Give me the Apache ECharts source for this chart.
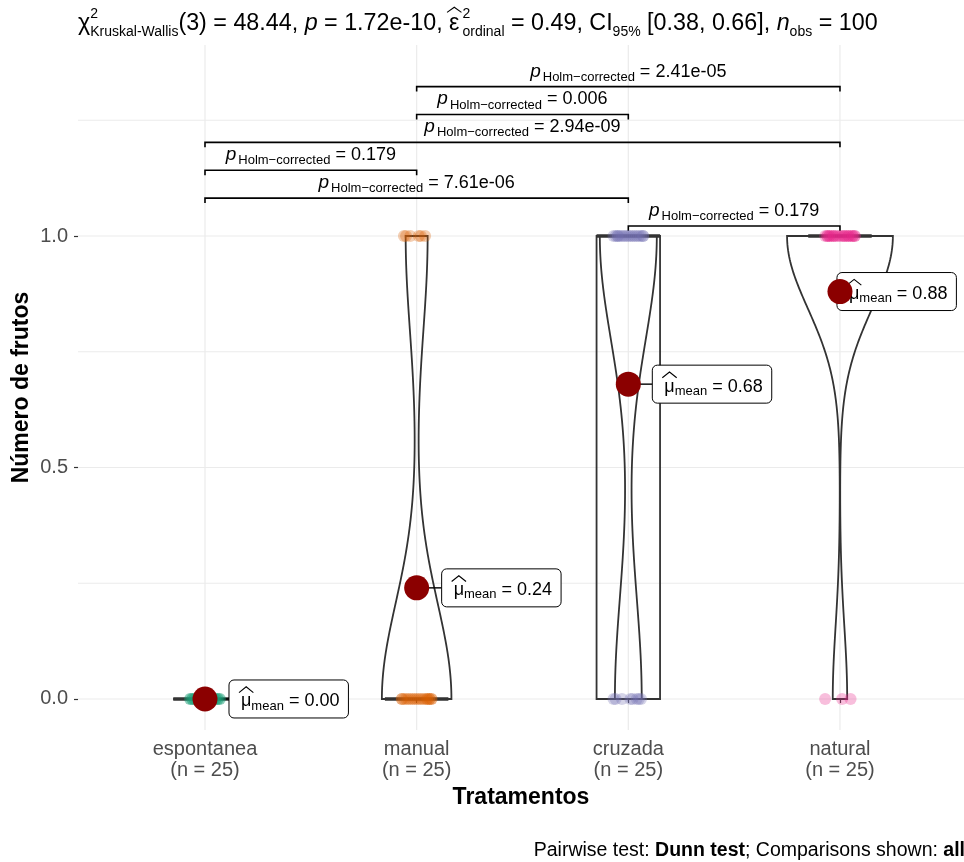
<!DOCTYPE html>
<html>
  <head>
    <meta charset="utf-8" />
    <title>Número de frutos por tratamento</title>
    <script src="https://cdn.jsdelivr.net/npm/echarts@6/dist/echarts.min.js"></script>
    <style>html, body { margin: 0; padding: 0; background: #fff; }</style>
  </head>
  <body>
    <div id="main" style="width: 964px;height:862px;"></div>
    <script type="text/javascript">
      // tratamentos e cores (Dark2)
      var categorias = ['espontanea', 'manual', 'cruzada', 'natural'];
      var cores = ['#1B9E77', '#D95F02', '#7570B3', '#E7298A'];

      // número de frutos por planta (0/1), 25 plantas por tratamento
      var espontanea = [0,0,0,0,0,0,0,0,0,0,0,0,0,0,0,0,0,0,0,0,0,0,0,0,0];
      var manual     = [1,1,1,1,1,1,0,0,0,0,0,0,0,0,0,0,0,0,0,0,0,0,0,0,0];
      var cruzada    = [1,1,1,1,1,1,1,1,1,1,1,1,1,1,1,1,1,0,0,0,0,0,0,0,0];
      var natural    = [1,1,1,1,1,1,1,1,1,1,1,1,1,1,1,1,1,1,1,1,1,1,0,0,0];
      var amostras = [espontanea, manual, cruzada, natural];

      // deslocamento horizontal dos pontos (jitter)
      var jitter = [-0.05, 0.01, -0.03, 0.04, -0.06, 0.02, 0.06, -0.02, 0.07, -0.07, 0.03, -0.04, 0.05,
                    0.00, -0.05, 0.07, -0.01, 0.04, -0.06, 0.02, 0.06, -0.03, 0.01, -0.07, 0.05];

      // médias mostradas nos rótulos
      var medias = [0.00, 0.24, 0.68, 0.88];

      // comparações de Dunn (Holm), da mais baixa para a mais alta
      var compA = [3, 1, 1, 1, 2, 2];
      var compB = [4, 3, 2, 4, 3, 4];
      var pHolm = ['0.179', '7.61e-06', '0.179', '2.94e-09', '0.006', '2.41e-05'];

      // eixo y
      var ticksY = [0, 0.5, 1];
      var gradeY = [0, 0.25, 0.5, 0.75, 1, 1.25];

      var FONTE = 'Liberation Sans';
      var ctx = document.createElement('canvas').getContext('2d');

      function fonte(p) {
        return (p.it ? 'italic ' : '') + (p.b ? 'bold ' : '') + p.size + 'px "' + FONTE + '"';
      }
      function medir(p) {
        ctx.font = fonte(p);
        return ctx.measureText(p.t).width;
      }
      function txt(p, x, base, cor) {
        return {
          type: 'text', x: x, y: base - 0.31 * p.size, silent: true,
          style: { text: p.t, font: fonte(p), fill: cor, textAlign: 'left',
                   textVerticalAlign: 'middle', verticalAlign: 'middle' }
        };
      }
      function chapeu(x, w, base, s, h, cor) {
        return {
          type: 'polyline', silent: true,
          shape: { points: [[x - 2, base - h[0] * s], [x + w / 2, base - h[1] * s], [x + w + 2, base - h[0] * s]] },
          style: { stroke: cor, lineWidth: 1.1, fill: null }
        };
      }
      // monta texto com sub/sobrescritos em posições absolutas
      function compor(pecas, x0, base, cor) {
        var els = [], x = x0;
        pecas.forEach(function (p) {
          if (p.sup !== undefined) {
            var ps = { t: p.sup, size: p.size }, pb = { t: p.sub, size: p.size };
            els.push(txt(ps, x, base - p.up, cor));
            els.push(txt(pb, x, base + p.down, cor));
            x += Math.max(medir(ps), medir(pb));
            return;
          }
          var w = medir(p);
          els.push(txt(p, x, base + (p.dy || 0), cor));
          if (p.hat) els.push(chapeu(x, w, base, p.size, p.hat, cor));
          x += w + (p.extra || 0);
        });
        return { els: els, w: x - x0 };
      }

      // quantil tipo 7 (R)
      function quantil(v, q) {
        var s = v.slice().sort(function (a, b) { return a - b; });
        var h = (s.length - 1) * q, i = Math.floor(h);
        return i + 1 < s.length ? s[i] + (h - i) * (s[i + 1] - s[i]) : s[i];
      }
      // densidade kernel gaussiana, bw.nrd0, aparada no intervalo dos dados
      function densidade(v) {
        var n = v.length, mu = v.reduce(function (s, x) { return s + x; }, 0) / n;
        var sd = Math.sqrt(v.reduce(function (s, x) { return s + (x - mu) * (x - mu); }, 0) / (n - 1));
        var lo = Math.min(sd, (quantil(v, 0.75) - quantil(v, 0.25)) / 1.34);
        if (!lo) lo = sd || Math.abs(v[0]) || 1;
        var bw = 0.9 * lo * Math.pow(n, -0.2);
        var a = Math.min.apply(null, v), b = Math.max.apply(null, v);
        if (a === b) return null;
        var pts = [];
        for (var k = 0; k <= 160; k++) {
          var y = a + (b - a) * k / 160, d = 0;
          v.forEach(function (x) { var z = (y - x) / bw; d += Math.exp(-0.5 * z * z); });
          pts.push([y, d / (n * bw * Math.sqrt(2 * Math.PI))]);
        }
        return pts;
      }
      var dens = amostras.map(densidade);
      var dMax = 0;
      dens.forEach(function (d) { if (d) d.forEach(function (p) { dMax = Math.max(dMax, p[1]); }); });

      var chart = echarts.init(document.getElementById('main'));

      var seriesPontos = amostras.map(function (v, g) {
        return {
          type: 'scatter', silent: true, symbolSize: 12,
          itemStyle: { color: cores[g], opacity: 0.3 },
          data: v.map(function (y, i) { return [g + 1 + jitter[i], y]; })
        };
      });

      // posição dos rótulos das médias em relação ao ponto (px)
      var deslocRotulo = [24, 25, 24, -3];

      // título (subtítulo estatístico)
      var M = 23.3, S = 14;
      var titulo = compor([
        { t: 'χ', size: M },
        { sup: '2', sub: 'Kruskal-Wallis', size: S, up: 13, down: 5 },
        { t: '(3) = 48.44, ', size: M },
        { t: 'p', size: M, it: true },
        { t: ' = 1.72e-10, ', size: M },
        { t: 'ε', size: M, hat: [0.8, 1.02], extra: 3 },
        { sup: '2', sub: 'ordinal', size: S, up: 13, down: 5 },
        { t: ' = 0.49, CI', size: M },
        { t: '95%', size: S, dy: 5 },
        { t: ' [0.38, 0.66], ', size: M },
        { t: 'n', size: M, it: true },
        { t: 'obs', size: S, dy: 5 },
        { t: ' = 100', size: M }
      ], 78, 31, '#000');

      var pecasLegenda = [
        { t: 'Pairwise test: ', size: 19.5 },
        { t: 'Dunn test', size: 19.5, b: true },
        { t: '; Comparisons shown: ', size: 19.5 },
        { t: 'all', size: 19.5, b: true }
      ];
      var largLegenda = compor(pecasLegenda, 0, 0, '#000').w;
      var legenda = compor(pecasLegenda, 965 - largLegenda, 857, '#000');

      var option = {
        animation: false,
        backgroundColor: '#fff',
        textStyle: { fontFamily: FONTE },
        grid: { left: 78, right: 0, top: 45, bottom: 132, outerBoundsMode: 'none' },
        xAxis: {
          type: 'value', min: 0.4, max: 4.586,
          axisLine: { show: false },
          splitLine: { show: false },
          axisTick: { show: true, customValues: [1, 2, 3, 4], length: 4, lineStyle: { color: '#333', width: 1.2 } },
          axisLabel: {
            customValues: [1, 2, 3, 4], color: '#4D4D4D', fontSize: 20, lineHeight: 21, margin: 9, fontFamily: FONTE,
            formatter: function (v) {
              var i = Math.round(v) - 1;
              return categorias[i] + '\n(n = ' + amostras[i].length + ')';
            }
          },
          name: 'Tratamentos', nameLocation: 'middle', nameGap: 56, nameMoveOverlap: false,
          nameTextStyle: { fontWeight: 'bold', fontSize: 23, color: '#000', fontFamily: FONTE }
        },
        yAxis: {
          type: 'value', min: -0.067, max: 1.4125,
          axisLine: { show: false },
          splitLine: { show: false },
          axisTick: { show: true, customValues: ticksY, length: 4, lineStyle: { color: '#333', width: 1.2 } },
          axisLabel: {
            customValues: ticksY, color: '#4D4D4D', fontSize: 20, margin: 10, fontFamily: FONTE,
            formatter: function (v) { return v.toFixed(1); }
          },
          name: 'Número de frutos', nameLocation: 'middle', nameGap: 45, nameRotate: 90, nameMoveOverlap: false,
          nameTextStyle: { fontWeight: 'bold', fontSize: 23, color: '#000', fontFamily: FONTE }
        },
        graphic: [
          { type: 'group', silent: true, children: titulo.els },
          { type: 'group', silent: true, children: legenda.els }
        ],
        series: [
          // grade horizontal
          {
            type: 'custom', silent: true, z: 0,
            data: gradeY.map(function (v) { return [1, v]; }),
            renderItem: function (params, api) {
              var cs = params.coordSys, y = api.coord([1, api.value(1)])[1];
              return { type: 'line', shape: { x1: cs.x, y1: y, x2: cs.x + cs.width, y2: y },
                       style: { stroke: '#EBEBEB', lineWidth: 1.2 } };
            }
          },
          // grade vertical
          {
            type: 'custom', silent: true, z: 0,
            data: categorias.map(function (c, i) { return [i + 1, 0]; }),
            renderItem: function (params, api) {
              var cs = params.coordSys, x = api.coord([api.value(0), 0])[0];
              return { type: 'line', shape: { x1: x, y1: cs.y, x2: x, y2: cs.y + cs.height },
                       style: { stroke: '#EBEBEB', lineWidth: 1.2 } };
            }
          }
        ].concat(seriesPontos).concat([
          // caixas
          {
            type: 'custom', silent: true,
            data: amostras.map(function (v, g) { return [g + 1, quantil(v, 0.25), quantil(v, 0.5), quantil(v, 0.75)]; }),
            renderItem: function (params, api) {
              var x = api.value(0);
              var a = api.coord([x - 0.15, api.value(3)]), b = api.coord([x + 0.15, api.value(1)]);
              var m1 = api.coord([x - 0.15, api.value(2)]), m2 = api.coord([x + 0.15, api.value(2)]);
              return { type: 'group', children: [
                { type: 'rect', shape: { x: a[0], y: a[1], width: b[0] - a[0], height: b[1] - a[1] },
                  style: { fill: null, stroke: '#333', lineWidth: 1.8 } },
                { type: 'line', shape: { x1: m1[0], y1: m1[1], x2: m2[0], y2: m2[1] },
                  style: { stroke: '#333', lineWidth: 3.6 } }
              ] };
            }
          },
          // violinos
          {
            type: 'custom', silent: true,
            data: [[2, 0], [3, 0], [4, 0]],
            renderItem: function (params, api) {
              var x = api.value(0), d = dens[x - 1];
              if (!d) return null;
              var dir = [], esq = [];
              d.forEach(function (p) {
                var hw = 0.25 * p[1] / dMax;
                dir.push(api.coord([x + hw, p[0]]));
                esq.unshift(api.coord([x - hw, p[0]]));
              });
              return { type: 'polygon', shape: { points: dir.concat(esq) },
                       style: { fill: null, stroke: '#333', lineWidth: 1.8 } };
            }
          },
          // médias
          {
            type: 'scatter', silent: true, symbolSize: 25,
            itemStyle: { color: '#8B0000', opacity: 1 },
            data: medias.map(function (m, g) { return [g + 1, m]; })
          },
          // rótulos das médias
          {
            type: 'custom', silent: true,
            data: medias.map(function (m, g) { return [g + 1, m]; }),
            renderItem: function (params, api) {
              var m = api.value(1), pt = api.coord([api.value(0), m]);
              var bx = pt[0] + deslocRotulo[params.dataIndex], padL = 12, padR = 9, h = 38;
              var comp = compor([
                { t: 'μ', size: 18, hat: [0.8, 1.12] },
                { t: 'mean', size: 13, dy: 3 },
                { t: ' = ' + m.toFixed(2), size: 18 }
              ], bx + padL, pt[1] + 8, '#000');
              var filhos = [];
              if (bx > pt[0]) {
                filhos.push({ type: 'line', shape: { x1: pt[0], y1: pt[1], x2: bx, y2: pt[1] },
                              style: { stroke: '#000', lineWidth: 1.4 } });
              }
              filhos.push({ type: 'rect', shape: { x: bx, y: pt[1] - h / 2, width: comp.w + padL + padR, height: h, r: 5 },
                            style: { fill: '#fff', stroke: '#000', lineWidth: 1 } });
              return { type: 'group', children: filhos.concat(comp.els) };
            }
          },
          // comparações pareadas
          {
            type: 'custom', silent: true,
            data: pHolm.map(function (p, k) { return [compA[k], compB[k], k]; }),
            renderItem: function (params, api) {
              var k = api.value(2), y = 1.0216 + k * 0.0602;
              var a = api.coord([api.value(0), y]), b = api.coord([api.value(1), y]);
              var pecas = [
                { t: 'p', size: 19, it: true, extra: 2 },
                { t: 'Holm\u2212corrected', size: 13, dy: 4 },
                { t: ' = ' + pHolm[params.dataIndex], size: 18 }
              ];
              var w = compor(pecas, 0, 0, '#000').w;
              var comp = compor(pecas, (a[0] + b[0]) / 2 - w / 2, a[1] - 9.5, '#000');
              return { type: 'group', children: [
                { type: 'polyline', shape: { points: [[a[0], a[1] + 5], a, b, [b[0], b[1] + 5]] },
                  style: { stroke: '#000', lineWidth: 1.6, fill: null } }
              ].concat(comp.els) };
            }
          }
        ])
      };

      chart.setOption(option);
    </script>
  </body>
</html>
